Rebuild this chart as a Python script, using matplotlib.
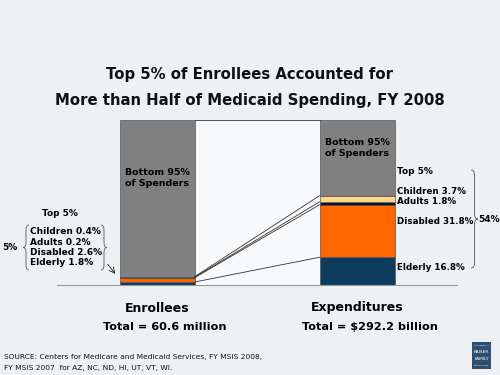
import numpy as np
import matplotlib
matplotlib.use('Agg')
import matplotlib.pyplot as plt
from matplotlib.path import Path
from matplotlib.patches import PathPatch, Rectangle

# Data (percent of total)
groups = ['Enrollees', 'Expenditures']
totals = ['Total = 60.6 million', 'Total = $292.2 billion']
segments = ['Elderly', 'Disabled', 'Adults', 'Children', 'Bottom 95%']
enrollees = [1.8, 2.6, 0.2, 0.4, 95.0]
expenditures = [16.8, 31.8, 1.8, 3.7, 45.9]
seg_colors = ['#0c3b5e', '#ff6600', '#111111', '#fdd58c', '#808080']

bg = '#eef1f4'
fig = plt.figure(figsize=(5, 3.75), dpi=100)
fig.patch.set_facecolor(bg)

# bar axes: pixel x 57..457, y 120..285
W, H = 500., 375.
ax = fig.add_axes([57 / W, 1 - 285 / H, 400 / W, 165 / H])
ax.set_facecolor('none')
ax.set_xlim(-0.5, 1.5)
ax.set_ylim(0, 100)
width = 0.375

# light area between the bars
ax.add_patch(Rectangle((width / 2, 0), 1 - width, 100, facecolor='#f8f9fb',
                       edgecolor='none', zorder=0))

for i, vals in enumerate([enrollees, expenditures]):
    bottom = 0
    for v, c in zip(vals, seg_colors):
        ax.bar(i, v, width, bottom=bottom, color=c, edgecolor='#555555',
               linewidth=0.5, zorder=2)
        bottom += v

# connector lines between cumulative boundaries
left_cum = np.cumsum(enrollees)
right_cum = np.cumsum(expenditures)
for a, b in zip(left_cum, right_cum):
    ax.plot([width / 2, 1 - width / 2], [a, b], color='#333333', lw=0.6, zorder=3)

for s in ['top', 'left', 'right']:
    ax.spines[s].set_visible(False)
ax.spines['bottom'].set_color('#999999')
ax.spines['bottom'].set_linewidth(0.8)
ax.set_xticks([])
ax.set_yticks([])

# overlay axes in pixel coords for text and annotations
ov = fig.add_axes([0, 0, 1, 1])
ov.set_xlim(0, W)
ov.set_ylim(H, 0)
ov.axis('off')
ov.patch.set_alpha(0)

ov.text(250, 75, 'Top 5% of Enrollees Accounted for', ha='center', va='center',
        fontsize=10.7, fontweight='bold', color='#111111')
ov.text(250, 100, 'More than Half of Medicaid Spending, FY 2008', ha='center',
        va='center', fontsize=10.7, fontweight='bold', color='#111111')

# inside bar labels
ov.text(157, 178, 'Bottom 95%\nof Spenders', ha='center', va='center',
        fontsize=6.8, fontweight='bold', linespacing=1.3)
ov.text(357, 148, 'Bottom 95%\nof Spenders', ha='center', va='center',
        fontsize=6.8, fontweight='bold', linespacing=1.3)

# category labels
for x, g in zip([157, 357], groups):
    ov.text(x, 308, g, ha='center', va='center', fontsize=9, fontweight='bold')
for x, t in zip([165, 369.5], totals):
    ov.text(x, 327, t, ha='center', va='center', fontsize=8.1, fontweight='bold')


def brace(x, y0, y1, w, lw=0.6):
    ym = (y0 + y1) / 2
    q = min(5, (y1 - y0) / 6)
    xm = x + w / 2
    verts = [(x, y0), (xm, y0), (xm, y0 + q), (xm, ym - q), (xm, ym), (x + w, ym),
             (xm, ym), (xm, ym + q), (xm, y1 - q), (xm, y1), (x, y1)]
    codes = [Path.MOVETO, Path.CURVE3, Path.CURVE3, Path.LINETO, Path.CURVE3,
             Path.CURVE3, Path.CURVE3, Path.CURVE3, Path.LINETO, Path.CURVE3,
             Path.CURVE3]
    ov.add_patch(PathPatch(Path(verts, codes), fill=False, edgecolor='#555555',
                           lw=lw))


# left side labels
ov.text(60, 213, 'Top 5%', ha='center', va='center', fontsize=6.5, fontweight='bold')
left_lbl = ['Children 0.4%', 'Adults 0.2%', 'Disabled 2.6%', 'Elderly 1.8%']
for k, s in enumerate(left_lbl):
    ov.text(30, 232 + k * 10.3, s, ha='left', va='center', fontsize=6.5,
            fontweight='bold')
brace(29, 225, 270, -6)
brace(101, 225, 270, 6)
ov.text(2, 247, '5%', ha='left', va='center', fontsize=6.5, fontweight='bold')
ov.annotate('', xy=(117, 276), xytext=(106, 262),
            arrowprops=dict(arrowstyle='->', color='#222222', lw=0.6))

# right side labels
ov.text(415, 172, 'Top 5%', ha='center', va='center', fontsize=6.5, fontweight='bold')
right_lbl = [('Children 3.7%', 191), ('Adults 1.8%', 202),
             ('Disabled 31.8%', 221), ('Elderly 16.8%', 267)]
for s, y in right_lbl:
    ov.text(397, y, s, ha='left', va='center', fontsize=6.3, fontweight='bold')
brace(471, 170, 268, 7)
ov.text(478, 219, '54%', ha='left', va='center', fontsize=6.5, fontweight='bold')

# source
ov.text(4, 357, 'SOURCE: Centers for Medicare and Medicaid Services, FY MSIS 2008,',
        ha='left', va='center', fontsize=5.4, color='#111111')
ov.text(4, 368, 'FY MSIS 2007  for AZ, NC, ND, HI, UT, VT, WI.',
        ha='left', va='center', fontsize=5.4, color='#111111')

# logo
ov.add_patch(Rectangle((472, 342), 19, 27, facecolor='#2c4f72', edgecolor='none'))
for y, s, fs in [(346, 'THE HENRY J.', 1.6), (352, 'KAISER', 3.2),
                 (359, 'FAMILY', 3.2), (365, 'FOUNDATION', 1.6)]:
    ov.text(481.5, y, s, ha='center', va='center', fontsize=fs, color='white')

fig.savefig('out.png', dpi=100, facecolor=bg)
